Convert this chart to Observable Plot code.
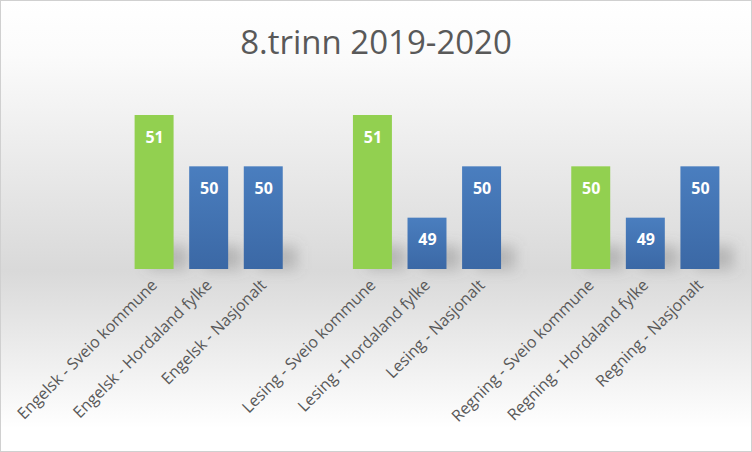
<!DOCTYPE html>
<html>
<head>
<meta charset="utf-8">
<script src="https://cdn.jsdelivr.net/npm/d3@7"></script>
<script src="https://cdn.jsdelivr.net/npm/@observablehq/plot@0.6"></script>
<style>
  html, body { margin: 0; padding: 0; }
  #chart {
    position: relative;
    width: 750px; height: 450px;
    border: 1px solid #d0d0d0;
    background: linear-gradient(to bottom, #ffffff 0%, #fbfbfb 12%, #d9d9d9 60%, #ffffff 95%);
    font-family: "Open Sans", sans-serif;
    overflow: hidden;
  }
  #title {
    height: 79px; line-height: 82px;
    text-align: center; font-size: 33px; color: #595959;
  }
  svg { display: block; }
</style>
</head>
<body>
<div id="chart"><div id="title">8.trinn 2019-2020</div></div>
<script>
const categories = [
  "Engelsk - Sveio kommune", "Engelsk - Hordaland fylke", "Engelsk - Nasjonalt", " ",
  "Lesing - Sveio kommune", "Lesing - Hordaland fylke", "Lesing - Nasjonalt", "  ",
  "Regning - Sveio kommune", "Regning - Hordaland fylke", "Regning - Nasjonalt"
];
const labels = [
  "Engelsk - Sveio kommune", "Engelsk - Hordaland fylke", "Engelsk - Nasjonalt",
  "Lesing - Sveio kommune", "Lesing - Hordaland fylke", "Lesing - Nasjonalt",
  "Regning - Sveio kommune", "Regning - Hordaland fylke", "Regning - Nasjonalt"
];
const values = [51, 50, 50, 51, 49, 50, 50, 49, 50];
const isLocal = [true, false, false, true, false, false, true, false, false];

const data = labels.map((c, i) => ({cat: c, value: values[i], local: isLocal[i]}));
const green = data.filter(d => d.local);
const blue = data.filter(d => !d.local);
const base = 48;

const plot = Plot.plot({
  width: 750,
  height: 371,
  marginLeft: 118,
  marginRight: 16,
  marginTop: 35,
  marginBottom: 182,
  style: {background: "transparent", fontFamily: "Open Sans, sans-serif"},
  x: {domain: categories, padding: 0.286, round: false, label: null},
  y: {domain: [base, 51], axis: null},
  marks: [
    // soft shadows behind bar bottoms
    Plot.barY(data, {x: "cat", y1: base, y2: base + 0.45, dx: 14, fill: "#6e6e6e",
      fillOpacity: 0.35, className: "shadow"}),
    Plot.barY(green, {x: "cat", y1: base, y2: "value", fill: "#92d050"}),
    Plot.barY(blue, {x: "cat", y1: base, y2: "value", fill: "url(#blueGrad)"}),
    Plot.text(data, {x: "cat", y: "value", text: d => String(d.value), dy: 22,
      fill: "white", fontWeight: "bold", fontSize: 16}),
    Plot.axisX({tickRotate: -45, tickSize: 0, tickPadding: 13, fontSize: 16,
      fill: "#595959", label: null})
  ]
});

const defs = d3.select(plot).insert("defs", ":first-child");
const g = defs.append("linearGradient").attr("id", "blueGrad")
  .attr("x1", 0).attr("y1", 0).attr("x2", 0).attr("y2", 1);
g.append("stop").attr("offset", "0%").attr("stop-color", "#4a7ebf");
g.append("stop").attr("offset", "100%").attr("stop-color", "#3b68a5");
defs.append("filter").attr("id", "blur").attr("x", "-50%").attr("y", "-100%")
  .attr("width", "200%").attr("height", "300%")
  .append("feGaussianBlur").attr("stdDeviation", 7);
d3.select(plot).selectAll(".shadow").attr("filter", "url(#blur)");

document.getElementById("chart").appendChild(plot);
</script>
</body>
</html>
